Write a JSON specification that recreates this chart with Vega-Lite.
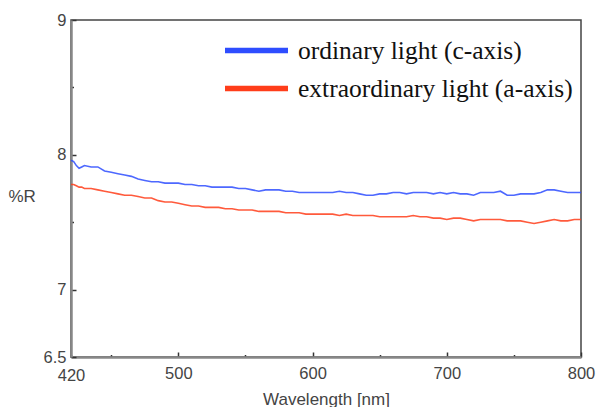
{
  "$schema": "https://vega.github.io/schema/vega-lite/v6.json",
  "width": 510,
  "height": 337,
  "autosize": "none",
  "padding": {"left": 71, "top": 20, "right": 15, "bottom": 50},
  "background": "white",
  "config": {
    "view": {"stroke": "#444444", "strokeWidth": 1.5},
    "font": "Liberation Sans"
  },
  "data": {
    "values": [
      {"w":420,"o":7.96,"e":7.78},{"w":422,"o":7.95,"e":7.78},{"w":424,"o":7.92,"e":7.77},{"w":426,"o":7.90,"e":7.76},{"w":428,"o":7.91,"e":7.76},{"w":430,"o":7.92,"e":7.75},
      {"w":435,"o":7.91,"e":7.75},{"w":440,"o":7.91,"e":7.74},{"w":445,"o":7.88,"e":7.73},{"w":450,"o":7.87,"e":7.72},{"w":455,"o":7.86,"e":7.71},{"w":460,"o":7.85,"e":7.70},
      {"w":465,"o":7.84,"e":7.70},{"w":470,"o":7.82,"e":7.69},{"w":475,"o":7.81,"e":7.68},{"w":480,"o":7.80,"e":7.68},{"w":485,"o":7.80,"e":7.66},{"w":490,"o":7.79,"e":7.65},
      {"w":495,"o":7.79,"e":7.65},{"w":500,"o":7.79,"e":7.64},{"w":505,"o":7.78,"e":7.63},{"w":510,"o":7.78,"e":7.62},{"w":515,"o":7.77,"e":7.62},{"w":520,"o":7.77,"e":7.61},
      {"w":525,"o":7.76,"e":7.61},{"w":530,"o":7.76,"e":7.61},{"w":535,"o":7.76,"e":7.60},{"w":540,"o":7.76,"e":7.60},{"w":545,"o":7.75,"e":7.59},{"w":550,"o":7.75,"e":7.59},
      {"w":555,"o":7.74,"e":7.59},{"w":560,"o":7.73,"e":7.58},{"w":565,"o":7.74,"e":7.58},{"w":570,"o":7.74,"e":7.58},{"w":575,"o":7.74,"e":7.58},{"w":580,"o":7.73,"e":7.57},
      {"w":585,"o":7.73,"e":7.57},{"w":590,"o":7.72,"e":7.57},{"w":595,"o":7.72,"e":7.56},{"w":600,"o":7.72,"e":7.56},{"w":605,"o":7.72,"e":7.56},{"w":610,"o":7.72,"e":7.56},
      {"w":615,"o":7.72,"e":7.56},{"w":620,"o":7.73,"e":7.55},{"w":625,"o":7.72,"e":7.56},{"w":630,"o":7.72,"e":7.55},{"w":635,"o":7.71,"e":7.55},{"w":640,"o":7.70,"e":7.55},
      {"w":645,"o":7.70,"e":7.55},{"w":650,"o":7.71,"e":7.54},{"w":655,"o":7.71,"e":7.54},{"w":660,"o":7.72,"e":7.54},{"w":665,"o":7.72,"e":7.54},{"w":670,"o":7.71,"e":7.54},
      {"w":675,"o":7.72,"e":7.55},{"w":680,"o":7.72,"e":7.54},{"w":685,"o":7.72,"e":7.54},{"w":690,"o":7.71,"e":7.53},{"w":695,"o":7.72,"e":7.53},{"w":700,"o":7.71,"e":7.52},
      {"w":705,"o":7.72,"e":7.53},{"w":710,"o":7.71,"e":7.53},{"w":715,"o":7.71,"e":7.52},{"w":720,"o":7.70,"e":7.51},{"w":725,"o":7.72,"e":7.52},{"w":730,"o":7.72,"e":7.52},
      {"w":735,"o":7.72,"e":7.52},{"w":740,"o":7.73,"e":7.52},{"w":745,"o":7.70,"e":7.51},{"w":750,"o":7.70,"e":7.51},{"w":755,"o":7.71,"e":7.51},{"w":760,"o":7.71,"e":7.50},
      {"w":765,"o":7.71,"e":7.49},{"w":770,"o":7.72,"e":7.50},{"w":775,"o":7.74,"e":7.51},{"w":780,"o":7.74,"e":7.52},{"w":785,"o":7.73,"e":7.51},{"w":790,"o":7.72,"e":7.51},
      {"w":795,"o":7.72,"e":7.52},{"w":800,"o":7.72,"e":7.52}
    ]
  },
  "transform": [
    {"fold": ["o", "e"], "as": ["series", "value"]}
  ],
  "mark": {"type": "line", "strokeWidth": 1.6, "opacity": 0.85, "interpolate": "linear"},
  "encoding": {
    "x": {
      "field": "w", "type": "quantitative",
      "scale": {"domain": [420, 800], "nice": false, "zero": false},
      "axis": {
        "title": "Wavelength [nm]",
        "values": [420, 450, 500, 550, 600, 650, 700, 750, 800],
        "labelExpr": "datum.value % 100 == 0 || datum.value == 420 ? datum.label : ''",
        "grid": false,
        "domainColor": "#888888", "domainWidth": 2.5,
        "tickColor": "#333333", "tickWidth": 1.5,
        "tickSize": {"condition": {"test": "datum.value % 100 == 0", "value": -5}, "value": -2.5},
        "labelFontSize": 16.5, "labelColor": "#444444", "labelPadding": 13,
        "labelFlush": false,
        "titleFontSize": 17, "titleFontWeight": "normal", "titleColor": "#444444", "titlePadding": 7
      }
    },
    "y": {
      "field": "value", "type": "quantitative",
      "scale": {"domain": [6.5, 9], "nice": false, "zero": false},
      "axis": {
        "title": "%R",
        "values": [6.5, 7, 7.5, 8, 8.5, 9],
        "format": "~g",
        "labelExpr": "datum.value == 7.5 || datum.value == 8.5 ? '' : datum.label",
        "grid": false,
        "domainColor": "#888888", "domainWidth": 2.5,
        "tickColor": "#333333", "tickWidth": 1.5,
        "tickSize": {"condition": {"test": "datum.value == 7.5 || datum.value == 8.5", "value": -2.5}, "value": -5},
        "labelFontSize": 16.5, "labelColor": "#444444", "labelPadding": 10,
        "labelFlush": false,
        "titleAngle": 0, "titleAlign": "left", "titleBaseline": "middle",
        "titleX": -63, "titleY": 176,
        "titleFontSize": 17, "titleFontWeight": "normal", "titleColor": "#444444"
      }
    },
    "color": {
      "field": "series", "type": "nominal",
      "sort": ["o", "e"],
      "scale": {"domain": ["o", "e"], "range": ["#2e4dff", "#ff3d1a"]},
      "legend": {
        "title": null,
        "orient": "none",
        "legendX": 172,
        "legendY": 17,
        "padding": 0,
        "offset": 0,
        "symbolType": "M-3,0H3",
        "symbolSize": 441,
        "symbolStrokeWidth": 5.5,
        "symbolOpacity": 1,
        "labelFont": "Liberation Serif",
        "labelFontSize": 25.5,
        "labelLimit": 400,
        "labelColor": "#111111",
        "labelOffset": 28,
        "rowPadding": 11,
        "labelExpr": "datum.value == 'o' ? 'ordinary light (c-axis)' : 'extraordinary light (a-axis)'"
      }
    }
  }
}
